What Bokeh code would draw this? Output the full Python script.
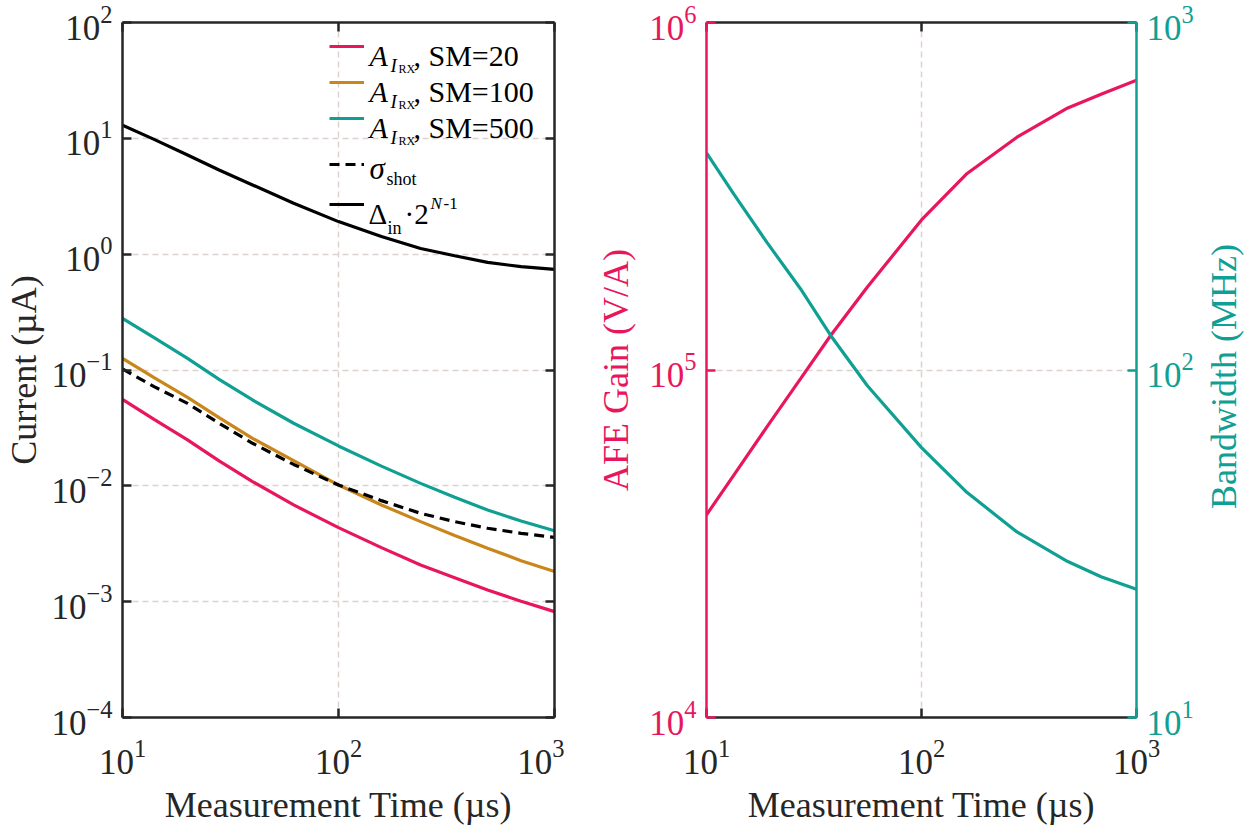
import math
from bokeh.plotting import figure
from bokeh.layouts import row
from bokeh.models import LogAxis, FixedTicker, Range1d, LogScale, Legend, LegendItem, Label
from bokeh.embed import file_html
from bokeh.resources import INLINE

FONT = "Liberation Serif"
DARK = "#262626"
PINK = "#E8175D"
ORANGE = "#C9861A"
TEAL = "#0FA093"
GRID = "#DCD3CE"

# ---------------- data ----------------
time_us = [10, 14, 20, 28, 40, 62, 100, 158, 240, 345, 490, 700, 1000]
delta_in_2n = [13.0, 9.80, 7.18, 5.33, 3.96, 2.75, 1.91, 1.42, 1.12, 0.970, 0.849, 0.780, 0.740]
a_irx_sm500 = [0.279, 0.190, 0.126, 0.0830, 0.0551, 0.0347, 0.0221, 0.0148, 0.0105,
               0.00796, 0.00618, 0.00497, 0.00410]
a_irx_sm100 = [0.126, 0.0859, 0.0581, 0.0388, 0.0257, 0.0165, 0.01016, 0.00684, 0.00491,
               0.00372, 0.00289, 0.00226, 0.00182]
sigma_shot = [0.102, 0.0718, 0.0515, 0.0347, 0.0233, 0.0153, 0.01016, 0.00745, 0.00579,
              0.00491, 0.00430, 0.00389, 0.00359]
a_irx_sm20 = [0.0558, 0.0375, 0.0249, 0.0164, 0.01087, 0.00684, 0.00436, 0.00293, 0.00207,
              0.00161, 0.00126, 0.00101, 0.00082]

time_right = [10, 13.4, 19.1, 27.4, 37.8, 55.9, 100, 163, 278, 479, 684, 1000]
afe_gain = [38300, 49800, 68600, 94400, 125700, 173000, 270200, 367800, 467600, 567700,
            622000, 681600]
bandwidth_mhz = [421.8, 320.7, 232.9, 171.1, 125.7, 90.2, 59.8, 44.4, 34.2, 28.1, 25.4, 23.4]

x_ticks = [10, 100, 1000]
current_ticks = [1e-4, 1e-3, 1e-2, 1e-1, 1, 10, 100]
gain_ticks = [1e4, 1e5, 1e6]
bw_ticks = [10, 100, 1000]


def style_axis(ax, color, ticks, show_labels=True):
    ax.ticker = FixedTicker(ticks=ticks)
    ax.axis_line_color = color
    ax.axis_line_width = 2.5
    ax.major_tick_line_color = color
    ax.major_tick_line_width = 2.5
    ax.major_tick_in = 9
    ax.major_tick_out = 0
    ax.minor_tick_line_color = None
    ax.axis_label_text_font = FONT
    ax.axis_label_text_font_style = "normal"
    ax.axis_label_text_font_size = "36px"
    ax.axis_label_text_color = color
    ax.major_label_text_font = FONT
    ax.major_label_text_color = color
    if show_labels:
        ax.major_label_text_font_size = "35px"
        ax.major_label_standoff = 10
    else:
        ax.major_label_text_font_size = "1px"
        ax.major_label_text_alpha = 0
        ax.major_label_standoff = 0
        ax.axis_label_standoff = 0


def style_grid(g, ticks):
    g.ticker = FixedTicker(ticks=ticks)
    g.grid_line_color = GRID
    g.grid_line_dash = "6 4"
    g.grid_line_width = 1.5


# ---------------- left: current ----------------
p1 = figure(width=564, height=827, x_axis_type="log", y_axis_type="log",
            x_range=Range1d(10, 1000), y_range=Range1d(1e-4, 100),
            output_backend="svg", toolbar_location=None,
            min_border_left=122, min_border_right=10, min_border_top=22, min_border_bottom=110)
p1.outline_line_color = None
p1.add_layout(LogAxis(), "right")
p1.add_layout(LogAxis(), "above")
for ax in p1.below:
    style_axis(ax, DARK, x_ticks, True)
for ax in p1.above:
    style_axis(ax, DARK, x_ticks, False)
for ax in p1.left:
    style_axis(ax, DARK, current_ticks, True)
for ax in p1.right:
    style_axis(ax, DARK, current_ticks, False)
p1.below[0].axis_label = "Measurement Time (µs)"
p1.left[0].axis_label = "Current (µA)"
p1.below[0].major_label_standoff = 22
p1.below[0].axis_label_standoff = 8
p1.left[0].major_label_standoff = 10
p1.left[0].axis_label_standoff = 4
style_grid(p1.xgrid[0], x_ticks)
style_grid(p1.ygrid[0], current_ticks)

lw = 3.2
r20 = p1.line(time_us, a_irx_sm20, line_color=PINK, line_width=lw)
r100 = p1.line(time_us, a_irx_sm100, line_color=ORANGE, line_width=lw)
r500 = p1.line(time_us, a_irx_sm500, line_color=TEAL, line_width=lw)
rshot = p1.line(time_us, sigma_shot, line_color="black", line_width=lw, line_dash="10 6")
rdelta = p1.line(time_us, delta_in_2n, line_color="black", line_width=lw)


def make_legend(items, loc, h):
    return Legend(items=[LegendItem(label="\u00a0", renderers=[r]) for r in items],
                  location=loc, glyph_width=35, glyph_height=h, label_height=h,
                  label_width=1, label_standoff=0, spacing=0, padding=0, margin=0,
                  background_fill_alpha=0, border_line_alpha=0,
                  label_text_font_size="4px")


p1.add_layout(make_legend([r20, r100, r500], (207, 581), 36))
p1.add_layout(make_legend([rshot, rdelta], (207, 493), 40))

FRAME_LEFT, FRAME_BOTTOM = 122, 717


def lab(text, x, y, size, italic=False):
    p1.add_layout(Label(x=x - FRAME_LEFT, y=FRAME_BOTTOM - y, x_units="screen", y_units="screen",
                        text=text, text_font=FONT, text_font_size=f"{size}px",
                        text_font_style="italic" if italic else "normal",
                        text_color="black", text_align="left", text_baseline="alphabetic"))


for base, sm in [(55, "20"), (91, "100"), (127, "500")]:
    lab("A", 369, base, 30, italic=True)
    lab("I", 390, base + 10, 19, italic=True)
    lab("RX", 398, base + 13.5, 12)
    lab(", SM=" + sm, 413, base, 30)
lab("σ", 369, 168, 31, italic=True)
lab("shot", 386, 178, 18)
lab("Δ", 368, 213, 29)
lab("in", 387, 227, 18)
lab("·2", 404, 213, 29)
lab("N", 430, 203, 17, italic=True)
lab("-1", 443, 203, 17)

# ---------------- right: gain & bandwidth ----------------
P3_W = 48
p2 = figure(width=1247 - 564 - P3_W, height=827, x_axis_type="log", y_axis_type="log",
            x_range=Range1d(10, 1000), y_range=Range1d(1e4, 1e6),
            output_backend="svg", toolbar_location=None,
            min_border_left=142, min_border_right=1247 - 564 - P3_W - 142 - 430,
            min_border_top=22, min_border_bottom=110)
p2.outline_line_color = None
p2.extra_y_ranges = {"bw": Range1d(10, 1000)}
p2.extra_y_scales = {"bw": LogScale()}
bw_axis = LogAxis(y_range_name="bw")
p2.add_layout(bw_axis, "right")
p2.add_layout(LogAxis(), "above")
for ax in p2.below:
    style_axis(ax, DARK, x_ticks, True)
for ax in p2.above:
    style_axis(ax, DARK, x_ticks, False)
style_axis(p2.left[0], PINK, gain_ticks)
style_axis(bw_axis, TEAL, bw_ticks)
bw_axis.major_label_standoff = 10
p2.below[0].axis_label = "Measurement Time (µs)"
p2.below[0].major_label_standoff = 22
p2.below[0].axis_label_standoff = 8
p2.left[0].axis_label = "AFE Gain (V/A)"
p2.left[0].axis_label_standoff = 10
style_grid(p2.xgrid[0], x_ticks)
style_grid(p2.ygrid[0], gain_ticks)

p2.line(time_right, afe_gain, line_color=PINK, line_width=lw)
p2.line(time_right, bandwidth_mhz, line_color=TEAL, line_width=lw, y_range_name="bw")

# strip holding the right-hand axis title (reads bottom-to-top, as in the reference);
# its frame is aligned by the row layout to the plot frames (22..717)
p3 = figure(width=P3_W, height=827, x_range=Range1d(0, 1), y_range=Range1d(0, 1),
            x_axis_location=None, y_axis_location=None,
            output_backend="svg", toolbar_location=None, min_border=0)
p3.outline_line_color = None
p3.grid.visible = False
p3.add_layout(Label(x=P3_W / 2, y=717 - 376, x_units="screen", y_units="screen",
                    text="Bandwidth (MHz)", angle=math.pi / 2, text_align="center",
                    text_baseline="middle", text_font=FONT, text_font_size="36px",
                    text_color=TEAL))

layout = row(p1, p2, p3)
open("out.html", "w").write(file_html(layout, INLINE))
